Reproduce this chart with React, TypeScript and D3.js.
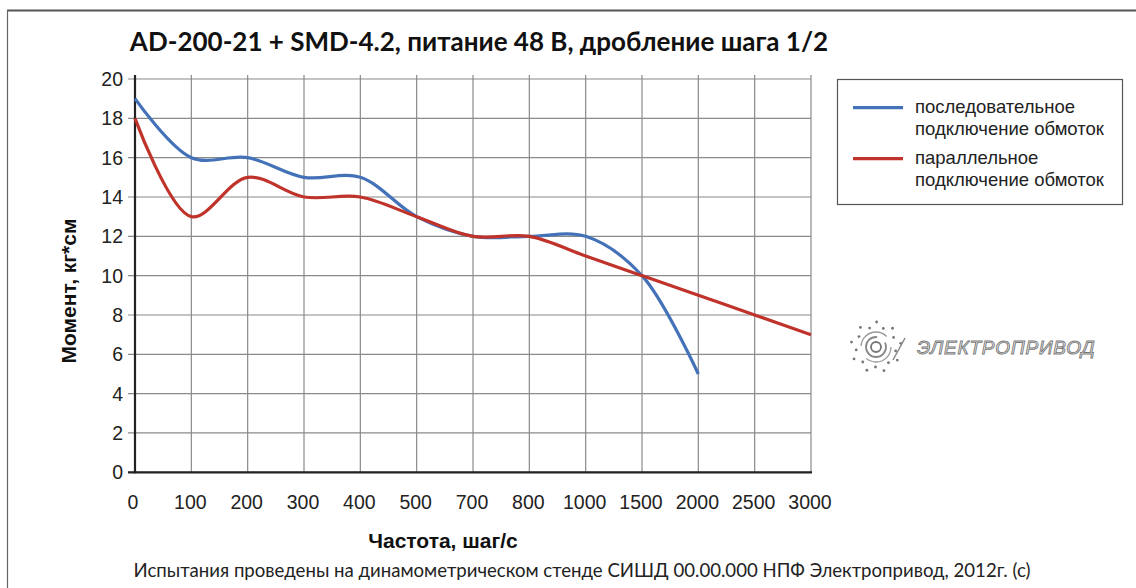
import React from "react";
import * as d3 from "d3";

const categories = ["0", "100", "200", "300", "400", "500", "700", "800", "1000", "1500", "2000", "2500", "3000"];
const seriesValues: (number | null)[] = [19, 16, 16, 15, 15, 13, 12, 12, 12, 10, 5, null, null];
const parallelValues: (number | null)[] = [18, 13, 15, 14, 14, 13, 12, 12, 11, 10, 9, 8, 7];
const yTicks = [0, 2, 4, 6, 8, 10, 12, 14, 16, 18, 20];
const legendLabels = [
  ["последовательное", "подключение обмоток"],
  ["параллельное", "подключение обмоток"],
];
const titleText = "AD-200-21 + SMD-4.2, питание 48 В, дробление шага 1/2";
const xTitle = "Частота, шаг/с";
const yTitle = "Момент, кг*см";
const footerText = "Испытания проведены на динамометрическом стенде СИШД 00.00.000 НПФ Электропривод, 2012г. (с)";
const logoText = "ЭЛЕКТРОПРИВОД";

const W = 1136;
const H = 588;
const BLUE = "#4472b8";
const RED = "#c0332b";

export default function App() {
  const x = d3.scalePoint<string>().domain(categories).range([135, 811]);
  const y = d3.scaleLinear().domain([0, 20]).range([472.3, 79]);

  const mk = (vals: (number | null)[]) =>
    d3
      .line<number | null>()
      .defined((d) => d !== null)
      .x((_, i) => x(categories[i]) as number)
      .y((d) => y(d as number))
      .curve(d3.curveCatmullRom.alpha(0.5))(vals) || "";

  const series = [
    { color: BLUE, values: seriesValues, labels: legendLabels[0] },
    { color: RED, values: parallelValues, labels: legendLabels[1] },
  ];

  const sans = "'Liberation Sans', Arial, sans-serif";
  const cal = "Lato, 'Open Sans', sans-serif";

  // logo geometry
  const lc = { x: 876, y: 347 };
  const dots = d3.range(18).map((i) => {
    const a = (i / 18) * Math.PI * 2 + 0.2;
    const r = i % 2 === 0 ? 20 : 25;
    return { x: lc.x + Math.cos(a) * r, y: lc.y + Math.sin(a) * r };
  });

  return (
    <svg
      width={W}
      height={H}
      style={{ position: "absolute", left: 0, top: 0, background: "#fff" }}
    >
      <rect x={0} y={0} width={W} height={H} fill="#ffffff" />
      {/* outer frame */}
      <line x1={7} y1={10.5} x2={W} y2={10.5} stroke="#555" strokeWidth={2} />
      <line x1={7.5} y1={10} x2={7.5} y2={H} stroke="#666" strokeWidth={1.2} />

      {/* title */}
      <text
        x={479}
        y={51}
        textAnchor="middle"
        fontFamily={cal}
        fontWeight="bold"
        fontSize={26}
        fill="#111"
      >
        {titleText}
      </text>

      {/* horizontal grid */}
      {yTicks.map((t) => (
        <line
          key={"h" + t}
          x1={128}
          x2={811}
          y1={y(t)}
          y2={y(t)}
          stroke="#8a8a8a"
          strokeWidth={1.2}
        />
      ))}
      {/* vertical grid */}
      {categories.map((c) => (
        <line
          key={"v" + c}
          x1={x(c)}
          x2={x(c)}
          y1={75}
          y2={y(0)}
          stroke="#8a8a8a"
          strokeWidth={1.2}
        />
      ))}
      {/* axes */}
      <line x1={135} x2={135} y1={75} y2={y(0) + 1} stroke="#222" strokeWidth={2.2} />
      <line x1={128} x2={812} y1={y(0)} y2={y(0)} stroke="#222" strokeWidth={2.2} />

      {/* y tick labels */}
      {yTicks.map((t) => (
        <text
          key={"yl" + t}
          x={123}
          y={y(t)}
          dy="0.36em"
          textAnchor="end"
          fontFamily={sans}
          fontSize={19.5}
          fill="#222"
        >
          {t}
        </text>
      ))}
      {/* x tick labels */}
      {categories.map((c) => (
        <text
          key={"xl" + c}
          x={c === "0" ? 133 : (x(c) as number) - 1}
          y={509}
          textAnchor="middle"
          fontFamily={sans}
          fontSize={19.5}
          fill="#222"
        >
          {c}
        </text>
      ))}

      {/* series */}
      {series.map((s) => (
        <path
          key={s.color}
          d={mk(s.values)}
          fill="none"
          stroke={s.color}
          strokeWidth={3.2}
          strokeLinejoin="round"
        />
      ))}

      {/* axis titles */}
      <text
        x={443}
        y={548}
        textAnchor="middle"
        fontFamily={sans}
        fontWeight="bold"
        fontSize={21}
        fill="#111"
      >
        {xTitle}
      </text>
      <text
        transform="translate(76,291) rotate(-90)"
        textAnchor="middle"
        fontFamily={sans}
        fontWeight="bold"
        fontSize={21}
        fill="#111"
      >
        {yTitle}
      </text>

      {/* legend */}
      <rect x={837.5} y={79.5} width={285} height={125} fill="none" stroke="#555" strokeWidth={1.2} />
      {series.map((s, i) => (
        <g key={"lg" + i}>
          <line
            x1={853}
            x2={903}
            y1={107.7 + i * 51}
            y2={107.7 + i * 51}
            stroke={s.color}
            strokeWidth={3.2}
          />
          {s.labels.map((l, j) => (
            <text
              key={j}
              x={915}
              y={107 + i * 51 + j * 21.5}
              dy="0.35em"
              fontFamily={sans}
              fontSize={18.5}
              fill="#222"
            >
              {l}
            </text>
          ))}
        </g>
      ))}

      {/* logo */}
      <g>
        <circle cx={lc.x} cy={lc.y} r={5} fill="none" stroke="#777" strokeWidth={1.8} />
        <circle cx={lc.x} cy={lc.y} r={10} fill="none" stroke="#888" strokeWidth={1.8} strokeDasharray="48 10" />
        <circle cx={lc.x} cy={lc.y} r={15} fill="none" stroke="#999" strokeWidth={1.3} strokeDasharray="34 14" />
        {dots.map((d, i) => (
          <circle key={i} cx={d.x} cy={d.y} r={1.4} fill="#777" />
        ))}
        <line x1={893} y1={360} x2={905} y2={338} stroke="#888" strokeWidth={1.5} />
        <text
          x={917}
          y={347}
          dy="0.36em"
          fontFamily={sans}
          fontStyle="italic"
          fontSize={19}
          letterSpacing={0.8}
          fill="#f2f2f2"
          stroke="#777"
          strokeWidth={0.9}
        >
          {logoText}
        </text>
      </g>

      {/* footer */}
      <text
        x={582}
        y={577}
        textAnchor="middle"
        fontFamily={cal}
        fontSize={18.6}
        fill="#222"
      >
        {footerText}
      </text>
    </svg>
  );
}
